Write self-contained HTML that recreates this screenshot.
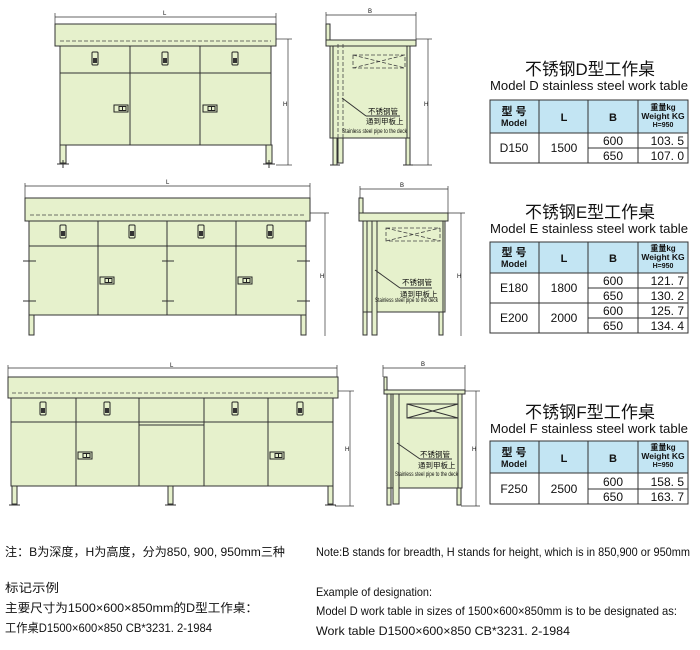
<!DOCTYPE html>
<html><head><meta charset="utf-8"><style>
html,body{margin:0;padding:0;background:#fff;}
svg{display:block;}
text{font-family:"Liberation Sans","Noto Sans CJK SC",sans-serif;fill:#111;}
.f{fill:#e6f1cc;stroke:#333;stroke-width:1;}
.l{stroke:#333;stroke-width:1;fill:none;}
.d{stroke:#444;stroke-width:0.8;fill:none;stroke-dasharray:4 2;}
.dim{stroke:#333;stroke-width:0.7;fill:none;}
.h{fill:#e6f1cc;stroke:#222;stroke-width:1;}
.hd{fill:#c3e5f3;stroke:#333;stroke-width:1;}
.t{fill:#fff;stroke:#333;stroke-width:1;}
</style></head><body>
<svg width="700" height="650" viewBox="0 0 700 650" xmlns="http://www.w3.org/2000/svg">
<defs>
<g id="dh"><rect x="-3" y="0" width="6" height="13" rx="1" class="h"/><rect x="-2" y="6" width="4" height="5" fill="#333"/></g>
<g id="oh"><rect x="0" y="0" width="14" height="7" class="h"/><rect x="5" y="1.5" width="7" height="4" fill="none" stroke="#222"/><line x1="8.5" y1="1.5" x2="8.5" y2="5.5" stroke="#222"/></g>
</defs>

<!-- ===== D FRONT ===== -->
<line class="dim" x1="55" y1="17" x2="276" y2="17"/><line class="dim" x1="55" y1="13" x2="55" y2="24"/><line class="dim" x1="276" y1="13" x2="276" y2="24"/>
<text x="163" y="15" font-size="6">L</text>
<rect class="f" x="55" y="24" width="221" height="22"/>
<line class="d" x1="60" y1="41" x2="271" y2="41"/>
<rect class="f" x="60" y="46" width="211" height="99"/>
<line class="l" x1="60" y1="73" x2="271" y2="73"/>
<line class="l" x1="130" y1="46" x2="130" y2="145"/><line class="l" x1="200" y1="46" x2="200" y2="145"/>
<use href="#dh" x="95" y="52"/><use href="#dh" x="165" y="52"/><use href="#dh" x="235" y="52"/>
<use href="#oh" x="114" y="105"/><use href="#oh" x="203" y="105"/>
<rect class="f" x="60" y="145" width="6" height="18"/><rect class="f" x="266" y="145" width="6" height="18"/>
<line class="l" x1="57" y1="164" x2="69" y2="164"/><line class="l" x1="63" y1="160" x2="63" y2="168"/>
<line class="l" x1="263" y1="164" x2="275" y2="164"/><line class="l" x1="269" y1="160" x2="269" y2="168"/>
<line class="dim" x1="288" y1="39" x2="288" y2="165"/><line class="dim" x1="276" y1="39" x2="292" y2="39"/><line class="dim" x1="276" y1="165" x2="292" y2="165"/>
<text x="283" y="106" font-size="6">H</text>

<!-- ===== D SIDE ===== -->
<line class="dim" x1="326" y1="15" x2="416" y2="15"/><line class="dim" x1="326" y1="12" x2="326" y2="24"/><line class="dim" x1="416" y1="12" x2="416" y2="40"/>
<text x="368" y="13" font-size="6">B</text>
<rect class="f" x="326" y="24" width="4" height="18"/>
<rect class="f" x="326" y="40" width="90" height="6"/>
<rect class="f" x="330" y="46" width="80" height="92"/>
<rect class="l" x="333" y="46" width="74" height="92"/>
<rect class="f" x="333" y="138" width="4" height="27"/><rect class="f" x="406" y="138" width="4" height="27"/>
<rect class="f" x="338" y="138" width="5" height="25"/>
<line class="d" x1="338" y1="44" x2="338" y2="140"/><line class="d" x1="343" y1="44" x2="343" y2="140"/>
<path class="d" d="M353 55 L405 55 L405 68 L353 68 Z M353 55 L405 68 M353 68 L405 55"/>
<line class="l" x1="410" y1="50" x2="410" y2="74"/>
<line class="l" x1="330" y1="165" x2="340" y2="165"/><line class="l" x1="403" y1="165" x2="413" y2="165"/>
<line class="l" x1="342" y1="98" x2="366" y2="116"/><line class="l" x1="366" y1="116" x2="400" y2="116"/>
<text x="368" y="114" font-size="7.5">不锈钢管</text>
<text x="366" y="124" font-size="7.5">通到甲板上</text>
<text x="342" y="133" font-size="6" textLength="65" lengthAdjust="spacingAndGlyphs">Stainless steel pipe to the deck</text>
<line class="dim" x1="428" y1="39" x2="428" y2="165"/><line class="dim" x1="416" y1="39" x2="432" y2="39"/><line class="dim" x1="412" y1="165" x2="432" y2="165"/>
<text x="424" y="106" font-size="6">H</text>

<!-- ===== D TABLE ===== -->
<text x="525" y="75" font-size="17" textLength="130" lengthAdjust="spacingAndGlyphs">不锈钢D型工作桌</text>
<text x="490" y="90" font-size="13" textLength="198" lengthAdjust="spacingAndGlyphs">Model D stainless steel work table</text>
<rect class="hd" x="490" y="100" width="198" height="33"/>
<rect class="t" x="490" y="133" width="198" height="30"/>
<line class="l" x1="539" y1="100" x2="539" y2="163"/><line class="l" x1="588" y1="100" x2="588" y2="163"/><line class="l" x1="638" y1="100" x2="638" y2="163"/>
<line class="l" x1="588" y1="148" x2="688" y2="148"/>
<text x="514" y="115" font-size="11" text-anchor="middle" font-weight="bold">型 号</text>
<text x="514" y="126" font-size="9" text-anchor="middle" font-weight="bold">Model</text>
<text x="564" y="121" font-size="11" text-anchor="middle" font-weight="bold">L</text>
<text x="613" y="121" font-size="11" text-anchor="middle" font-weight="bold">B</text>
<text x="663" y="110" font-size="8" text-anchor="middle" font-weight="bold">重量kg</text>
<text x="663" y="119" font-size="8.5" text-anchor="middle" font-weight="bold">Weight KG</text>
<text x="663" y="127" font-size="7" text-anchor="middle" font-weight="bold">H=950</text>
<text x="514" y="152" font-size="12" text-anchor="middle">D150</text>
<text x="564" y="152" font-size="12" text-anchor="middle">1500</text>
<text x="613" y="145" font-size="12" text-anchor="middle">600</text>
<text x="613" y="160" font-size="12" text-anchor="middle">650</text>
<text x="684" y="145" font-size="12" text-anchor="end">103. 5</text>
<text x="684" y="160" font-size="12" text-anchor="end">107. 0</text>

<!-- ===== E FRONT ===== -->
<line class="dim" x1="25" y1="186" x2="310" y2="186"/><line class="dim" x1="25" y1="183" x2="25" y2="198"/><line class="dim" x1="310" y1="183" x2="310" y2="198"/>
<text x="166" y="184" font-size="6">L</text>
<rect class="f" x="25" y="198" width="285" height="23"/>
<line class="d" x1="30" y1="215" x2="305" y2="215"/>
<rect class="f" x="29" y="221" width="277" height="94"/>
<line class="l" x1="29" y1="246" x2="306" y2="246"/>
<line class="l" x1="98" y1="221" x2="98" y2="315"/><line class="l" x1="167" y1="221" x2="167" y2="315"/><line class="l" x1="236" y1="221" x2="236" y2="315"/>
<use href="#dh" x="63" y="225"/><use href="#dh" x="132" y="225"/><use href="#dh" x="201" y="225"/><use href="#dh" x="270" y="225"/>
<use href="#oh" x="100" y="277"/><use href="#oh" x="238" y="277"/>
<line class="l" x1="23" y1="261" x2="36" y2="261"/><line class="l" x1="23" y1="301" x2="36" y2="301"/>
<line class="l" x1="162" y1="261" x2="174" y2="261"/><line class="l" x1="162" y1="301" x2="174" y2="301"/>
<line class="l" x1="297" y1="261" x2="310" y2="261"/><line class="l" x1="297" y1="301" x2="310" y2="301"/>
<rect class="f" x="29" y="315" width="5" height="20"/><rect class="f" x="301" y="315" width="5" height="20"/>
<line class="dim" x1="325" y1="213" x2="325" y2="336"/><line class="dim" x1="310" y1="213" x2="329" y2="213"/>
<text x="320" y="278" font-size="6">H</text>

<!-- ===== E SIDE ===== -->
<line class="dim" x1="360" y1="189" x2="448" y2="189"/><line class="dim" x1="360" y1="186" x2="360" y2="198"/><line class="dim" x1="448" y1="186" x2="448" y2="213"/>
<text x="400" y="187" font-size="6">B</text>
<rect class="f" x="359" y="198" width="4" height="23"/>
<rect class="f" x="359" y="213" width="89" height="8"/>
<rect class="f" x="363" y="221" width="82" height="91"/>
<rect class="l" x="367" y="221" width="76" height="91"/>
<rect class="f" x="363" y="312" width="4" height="23"/><rect class="f" x="439" y="312" width="4" height="23"/>
<rect class="f" x="372" y="221" width="5" height="114"/>
<path class="d" d="M386 228 L440 228 L440 241 L386 241 Z M386 228 L440 241 M386 241 L440 228"/>
<line class="l" x1="445" y1="221" x2="445" y2="246"/>
<line class="l" x1="375" y1="270" x2="400" y2="288"/><line class="l" x1="400" y1="288" x2="432" y2="288"/>
<text x="402" y="285" font-size="7.5">不锈钢管</text>
<text x="400" y="297" font-size="7.5">通到甲板上</text>
<text x="375" y="302" font-size="6" textLength="63" lengthAdjust="spacingAndGlyphs">Stainless steel pipe to the deck</text>
<line class="dim" x1="461" y1="213" x2="461" y2="336"/><line class="dim" x1="448" y1="213" x2="465" y2="213"/>
<text x="457" y="278" font-size="6">H</text>

<!-- ===== E TABLE ===== -->
<text x="525" y="218" font-size="17" textLength="130" lengthAdjust="spacingAndGlyphs">不锈钢E型工作桌</text>
<text x="490" y="233" font-size="13" textLength="198" lengthAdjust="spacingAndGlyphs">Model E stainless steel work table</text>
<rect class="hd" x="490" y="242" width="198" height="31"/>
<rect class="t" x="490" y="273" width="198" height="60"/>
<line class="l" x1="539" y1="242" x2="539" y2="333"/><line class="l" x1="588" y1="242" x2="588" y2="333"/><line class="l" x1="638" y1="242" x2="638" y2="333"/>
<line class="l" x1="588" y1="288" x2="688" y2="288"/><line class="l" x1="490" y1="303" x2="688" y2="303"/><line class="l" x1="588" y1="318" x2="688" y2="318"/>
<text x="514" y="256" font-size="11" text-anchor="middle" font-weight="bold">型 号</text>
<text x="514" y="267" font-size="9" text-anchor="middle" font-weight="bold">Model</text>
<text x="564" y="262" font-size="11" text-anchor="middle" font-weight="bold">L</text>
<text x="613" y="262" font-size="11" text-anchor="middle" font-weight="bold">B</text>
<text x="663" y="251" font-size="8" text-anchor="middle" font-weight="bold">重量kg</text>
<text x="663" y="260" font-size="8.5" text-anchor="middle" font-weight="bold">Weight KG</text>
<text x="663" y="268" font-size="7" text-anchor="middle" font-weight="bold">H=950</text>
<text x="514" y="292" font-size="12" text-anchor="middle">E180</text>
<text x="564" y="292" font-size="12" text-anchor="middle">1800</text>
<text x="514" y="322" font-size="12" text-anchor="middle">E200</text>
<text x="564" y="322" font-size="12" text-anchor="middle">2000</text>
<text x="613" y="285" font-size="12" text-anchor="middle">600</text>
<text x="613" y="300" font-size="12" text-anchor="middle">650</text>
<text x="613" y="315" font-size="12" text-anchor="middle">600</text>
<text x="613" y="330" font-size="12" text-anchor="middle">650</text>
<text x="684" y="285" font-size="12" text-anchor="end">121. 7</text>
<text x="684" y="300" font-size="12" text-anchor="end">130. 2</text>
<text x="684" y="315" font-size="12" text-anchor="end">125. 7</text>
<text x="684" y="330" font-size="12" text-anchor="end">134. 4</text>

<!-- ===== F FRONT ===== -->
<line class="dim" x1="8" y1="368" x2="337" y2="368"/><line class="dim" x1="8" y1="365" x2="8" y2="377"/><line class="dim" x1="337" y1="365" x2="337" y2="377"/>
<text x="170" y="367" font-size="6">L</text>
<rect class="f" x="8" y="377" width="330" height="21"/>
<line class="d" x1="12" y1="393" x2="333" y2="393"/>
<rect class="f" x="11" y="398" width="322" height="88"/>
<line class="l" x1="11" y1="422" x2="333" y2="422"/>
<line class="l" x1="76" y1="398" x2="76" y2="486"/><line class="l" x1="139" y1="398" x2="139" y2="486"/><line class="l" x1="204" y1="398" x2="204" y2="486"/><line class="l" x1="268" y1="398" x2="268" y2="486"/>
<line class="l" x1="139" y1="425" x2="204" y2="425"/>
<use href="#dh" x="43" y="402"/><use href="#dh" x="107" y="402"/><use href="#dh" x="235" y="402"/><use href="#dh" x="300" y="402"/>
<use href="#oh" x="78" y="452"/><use href="#oh" x="270" y="452"/>
<rect class="f" x="12" y="486" width="5" height="18"/><rect class="f" x="168" y="486" width="5" height="18"/><rect class="f" x="328" y="486" width="5" height="18"/>
<line class="l" x1="9" y1="505" x2="20" y2="505"/><line class="l" x1="165" y1="505" x2="176" y2="505"/><line class="l" x1="325" y1="505" x2="336" y2="505"/>
<line class="dim" x1="350" y1="391" x2="350" y2="506"/><line class="dim" x1="338" y1="391" x2="354" y2="391"/><line class="dim" x1="335" y1="506" x2="354" y2="506"/>
<text x="345" y="451" font-size="6">H</text>

<!-- ===== F SIDE ===== -->
<line class="dim" x1="383" y1="368" x2="465" y2="368"/><line class="dim" x1="383" y1="365" x2="383" y2="377"/><line class="dim" x1="465" y1="365" x2="465" y2="390"/>
<text x="421" y="366" font-size="6">B</text>
<rect class="f" x="384" y="377" width="3" height="15"/>
<rect class="f" x="384" y="390" width="81" height="4"/>
<rect class="f" x="387" y="394" width="75" height="94"/>
<rect class="l" x="391" y="394" width="67" height="94"/>
<rect class="f" x="387" y="488" width="4" height="17"/><rect class="f" x="457" y="488" width="4" height="17"/>
<rect class="f" x="393" y="394" width="6" height="110"/>
<path class="l" d="M407 404 L458 404 L458 418 L407 418 Z M407 404 L458 418 M407 418 L458 404"/>
<line class="l" x1="397" y1="443" x2="420" y2="459"/><line class="l" x1="420" y1="459" x2="452" y2="459"/>
<text x="420" y="457" font-size="7.5">不锈钢管</text>
<text x="418" y="468" font-size="7.5">通到甲板上</text>
<text x="395" y="476" font-size="6" textLength="63" lengthAdjust="spacingAndGlyphs">Stainless steel pipe to the deck</text>
<line class="dim" x1="476" y1="391" x2="476" y2="506"/><line class="dim" x1="465" y1="391" x2="480" y2="391"/><line class="dim" x1="461" y1="506" x2="480" y2="506"/>
<text x="472" y="451" font-size="6">H</text>

<!-- ===== F TABLE ===== -->
<text x="525" y="418" font-size="17" textLength="130" lengthAdjust="spacingAndGlyphs">不锈钢F型工作桌</text>
<text x="490" y="433" font-size="13" textLength="198" lengthAdjust="spacingAndGlyphs">Model F stainless steel work table</text>
<rect class="hd" x="490" y="441" width="198" height="32"/>
<rect class="t" x="490" y="473" width="198" height="31"/>
<line class="l" x1="539" y1="441" x2="539" y2="504"/><line class="l" x1="588" y1="441" x2="588" y2="504"/><line class="l" x1="638" y1="441" x2="638" y2="504"/>
<line class="l" x1="588" y1="489" x2="688" y2="489"/>
<text x="514" y="456" font-size="11" text-anchor="middle" font-weight="bold">型 号</text>
<text x="514" y="467" font-size="9" text-anchor="middle" font-weight="bold">Model</text>
<text x="564" y="462" font-size="11" text-anchor="middle" font-weight="bold">L</text>
<text x="613" y="462" font-size="11" text-anchor="middle" font-weight="bold">B</text>
<text x="663" y="450" font-size="8" text-anchor="middle" font-weight="bold">重量kg</text>
<text x="663" y="459" font-size="8.5" text-anchor="middle" font-weight="bold">Weight KG</text>
<text x="663" y="467" font-size="7" text-anchor="middle" font-weight="bold">H=950</text>
<text x="514" y="493" font-size="12" text-anchor="middle">F250</text>
<text x="564" y="493" font-size="12" text-anchor="middle">2500</text>
<text x="613" y="486" font-size="12" text-anchor="middle">600</text>
<text x="613" y="501" font-size="12" text-anchor="middle">650</text>
<text x="684" y="486" font-size="12" text-anchor="end">158. 5</text>
<text x="684" y="501" font-size="12" text-anchor="end">163. 7</text>

<!-- ===== NOTES ===== -->
<text x="5" y="556" font-size="12" textLength="280" lengthAdjust="spacingAndGlyphs">注：B为深度，H为高度，分为850, 900, 950mm三种</text>
<text x="316" y="556" font-size="12" textLength="374" lengthAdjust="spacingAndGlyphs">Note:B stands for breadth, H stands for height, which is in 850,900 or 950mm</text>
<text x="5" y="592" font-size="12" textLength="54" lengthAdjust="spacingAndGlyphs">标记示例</text>
<text x="5" y="612" font-size="12" textLength="253" lengthAdjust="spacingAndGlyphs">主要尺寸为1500×600×850mm的D型工作桌：</text>
<text x="5" y="632" font-size="12" textLength="207" lengthAdjust="spacingAndGlyphs">工作桌D1500×600×850 CB*3231. 2-1984</text>
<text x="316" y="596" font-size="12" textLength="116" lengthAdjust="spacingAndGlyphs">Example of designation:</text>
<text x="316" y="615" font-size="12" textLength="361" lengthAdjust="spacingAndGlyphs">Model D work table in sizes of 1500×600×850mm is to be designated as:</text>
<text x="316" y="635" font-size="12" textLength="254" lengthAdjust="spacingAndGlyphs">Work table D1500×600×850 CB*3231. 2-1984</text>
</svg>
</body></html>
